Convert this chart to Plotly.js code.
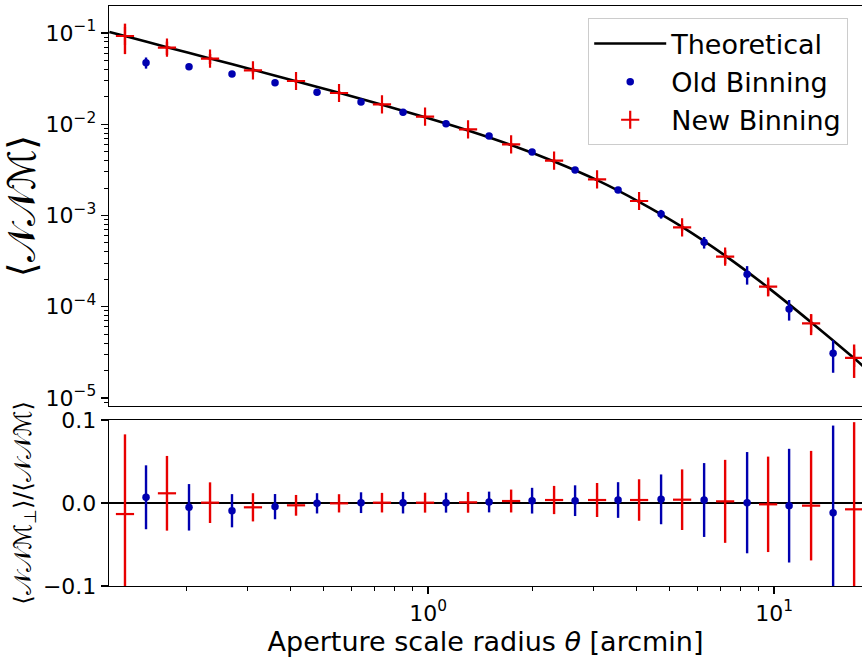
<!DOCTYPE html>
<html>
<head>
<meta charset="utf-8">
<script src="https://cdn.plot.ly/plotly-3.0.1.min.js"></script>
<style>html,body{margin:0;padding:0;background:#fff;}#chart{width:862px;height:657px;}</style>
</head>
<body>
<div id="chart"></div>
<script>
// ---- data ----
const thetaTheory = [0.12, 0.1331, 0.1760, 0.2344, 0.3119, 0.4154, 0.5530, 0.7360, 0.9802, 1.305, 1.738, 2.313, 3.079, 4.072, 5.422, 7.219, 9.609, 12.79, 17.03, 18.5];
const nnmTheory = [0.1025, 0.0927, 0.0700, 0.0527, 0.0396, 0.0296, 0.0221, 0.01633, 0.01194, 0.00855, 0.00592, 0.00391, 0.00244, 0.001413, 0.000750, 0.000363, 0.000162, 6.76e-5, 2.72e-5, 2.07e-5];

const thetaOld = [0.1531, 0.2038, 0.2713, 0.3612, 0.4777, 0.6402, 0.8466, 1.127, 1.501, 1.998, 2.660, 3.541, 4.714, 6.277, 8.356, 11.05, 14.81];
const nnmOld = [0.0473, 0.0427, 0.03554, 0.02853, 0.02239, 0.01753, 0.01352, 0.01014, 0.00743, 0.00496, 0.00315, 0.001903, 0.001038, 0.000508, 0.0002268, 9.45e-5, 3.09e-5];
const nnmOldErr = [0.0066, 0.0030, 0.0018, 0.0011, 0.0008, 0.0006, 0.00047, 0.00035, 0.0003, 0.00022, 0.00016, 0.00013, 0.000114, 0.000074, 0.000052, 0.000024, 0.000012];
const resOld = [0.0069, -0.0052, -0.0093, -0.0044, -0.0004, 0.0004, 0.0004, 0.0004, 0.0012, 0.0028, 0.0028, 0.0036, 0.0044, 0.0036, 0.0004, -0.0032, -0.0117];
const resOldErr = [0.0385, 0.028, 0.020, 0.0152, 0.0122, 0.0125, 0.013, 0.012, 0.0125, 0.0155, 0.0185, 0.0215, 0.030, 0.0445, 0.061, 0.0685, 0.105];

const thetaNew = [0.1331, 0.1760, 0.2344, 0.3119, 0.4154, 0.5530, 0.7360, 0.9802, 1.305, 1.738, 2.313, 3.079, 4.072, 5.422, 7.219, 9.609, 12.79, 17.03];
const nnmNew = [0.0927, 0.0690, 0.0523, 0.0390, 0.0298, 0.0220, 0.01654, 0.01210, 0.00881, 0.00603, 0.00399, 0.002492, 0.001442, 0.000742, 0.000354, 0.0001658, 6.585e-5, 2.758e-5];
const nnmNewErr = [0.034, 0.0115, 0.0066, 0.003, 0.0015, 0.001, 0.0006, 0.0004, 0.0003, 0.0002, 0.00015, 0.0001, 0.00008, 0.00006, 0.00006, 0.000036, 0.000017, 0.000011];
const resNew = [-0.0133, 0.0117, 0.0004, -0.0052, -0.0028, -0.0004, 0.0004, 0.0004, 0.0008, 0.0024, 0.0036, 0.0036, 0.0036, 0.0040, 0.0020, -0.0016, -0.0032, -0.0076];
const resNewErr = [0.096, 0.045, 0.0245, 0.017, 0.0125, 0.011, 0.0118, 0.012, 0.0125, 0.0138, 0.017, 0.0205, 0.025, 0.0365, 0.050, 0.0575, 0.066, 0.105];

const yTopTickVals = [1e-5, 1e-4, 1e-3, 1e-2, 1e-1];
const yTopTickText = ['10<sup>\u22125</sup>', '10<sup>\u22124</sup>', '10<sup>\u22123</sup>', '10<sup>\u22122</sup>', '10<sup>\u22121</sup>'];
const xTickVals = [1, 10];
const xTickText = ['10<sup>0</sup>', '10<sup>1</sup>'];
const yBotTickVals = [-0.1, 0, 0.1];
const yBotTickText = ['\u22120.1', '0.0', '0.1'];
const legendNames = ['Theoretical', 'Old Binning', 'New Binning'];

// ---- styles ----
const BLUE = '#0000b0';
const RED = '#e80000';
const FONT = 'DejaVu Sans, Liberation Sans, sans-serif';

function minorLog(lo, hi) {
  const v = [];
  for (let d = lo; d <= hi; d++) {
    for (let k = 2; k <= 9; k++) v.push(k * Math.pow(10, d));
  }
  return v;
}

const traces = [
  {x: thetaTheory, y: nnmTheory, xaxis: 'x', yaxis: 'y', mode: 'lines', name: legendNames[0],
   line: {color: 'black', width: 2.6, shape: 'spline', smoothing: 0.8}, legendgroup: 'a'},
  {x: thetaOld, y: nnmOld, xaxis: 'x', yaxis: 'y', mode: 'markers', name: legendNames[1],
   marker: {color: BLUE, size: 7.5, symbol: 'circle'},
   error_y: {type: 'data', array: nnmOldErr, color: BLUE, thickness: 2.4, width: 0}, legendgroup: 'b'},
  {x: thetaNew, y: nnmNew, xaxis: 'x', yaxis: 'y', mode: 'markers', name: legendNames[2],
   marker: {color: RED, size: 13, symbol: 'cross-thin', line: {color: RED, width: 2.2}},
   error_y: {type: 'data', array: nnmNewErr, color: RED, thickness: 2.4, width: 0}, legendgroup: 'c'},
  {x: thetaOld, y: resOld, xaxis: 'x2', yaxis: 'y2', mode: 'markers', showlegend: false,
   marker: {color: BLUE, size: 7.5, symbol: 'circle'},
   error_y: {type: 'data', array: resOldErr, color: BLUE, thickness: 2.4, width: 0}},
  {x: thetaNew, y: resNew, xaxis: 'x2', yaxis: 'y2', mode: 'markers', showlegend: false,
   marker: {color: RED, size: 13, symbol: 'line-ew', line: {color: RED, width: 2.2}},
   error_y: {type: 'data', array: resNewErr, color: RED, thickness: 2.4, width: 0}}
];

const xRange = [-0.922, 1.254];
const axisBase = {showgrid: false, zeroline: false, showline: true, linecolor: 'black', linewidth: 1.3,
  tickcolor: 'black', tickwidth: 1.3, tickfont: {family: FONT, size: 22, color: 'black'}};

const layout = {
  width: 862, height: 657,
  margin: {l: 109, r: 0, t: 6, b: 71},
  paper_bgcolor: 'white', plot_bgcolor: 'white',
  font: {family: FONT, color: 'black'},
  showlegend: true,
  xaxis: Object.assign({}, axisBase, {type: 'log', range: xRange, anchor: 'y', domain: [0, 1],
    showticklabels: false, ticks: '', mirror: true}),
  yaxis: Object.assign({}, axisBase, {type: 'log', range: [-5.088, -0.704], domain: [0.3103, 1], anchor: 'x',
    tickmode: 'array', tickvals: yTopTickVals, ticktext: yTopTickText, ticks: 'outside', ticklen: 7,
    minor: {tickmode: 'array', tickvals: minorLog(-6, -1), ticks: 'outside', ticklen: 4, tickwidth: 1, tickcolor: 'black', showgrid: false},
    title: {text: '\u27E8\uD835\uDCA9\uD835\uDCA9\u2133\u27E9', font: {family: FONT, size: 38}, standoff: 2}}),
  xaxis2: Object.assign({}, axisBase, {type: 'log', range: xRange, anchor: 'y2', domain: [0, 1], mirror: true,
    tickmode: 'array', tickvals: xTickVals, ticktext: xTickText, ticks: 'outside', ticklen: 7,
    minor: {tickmode: 'array', tickvals: minorLog(-1, 1), ticks: 'outside', ticklen: 4, tickwidth: 1, tickcolor: 'black', showgrid: false},
    title: {text: 'Aperture scale radius <i>\u03B8</i> [arcmin]', font: {family: FONT, size: 27}, standoff: 4}}),
  yaxis2: Object.assign({}, axisBase, {range: [-0.1, 0.1], domain: [0, 0.2862], anchor: 'x2',
    tickmode: 'array', tickvals: yBotTickVals, ticktext: yBotTickText, ticks: 'outside', ticklen: 7,
    zeroline: true, zerolinecolor: 'black', zerolinewidth: 2.6,
    title: {text: '\u27E8\uD835\uDCA9\uD835\uDCA9\u2133<sub>\u22A5</sub>\u27E9/\u27E8\uD835\uDCA9\uD835\uDCA9\u2133\u27E9', font: {family: FONT, size: 24}, standoff: 4}}),
  legend: {x: 0.636, y: 0.979, xanchor: 'left', yanchor: 'top', bgcolor: 'rgba(255,255,255,0.85)',
    bordercolor: '#cccccc', borderwidth: 1.3, font: {family: FONT, size: 27, color: 'black'},
    traceorder: 'grouped', tracegroupgap: 0, itemwidth: 72}
};

Plotly.newPlot('chart', traces, layout, {staticPlot: true, displayModeBar: false});
</script>
</body>
</html>
